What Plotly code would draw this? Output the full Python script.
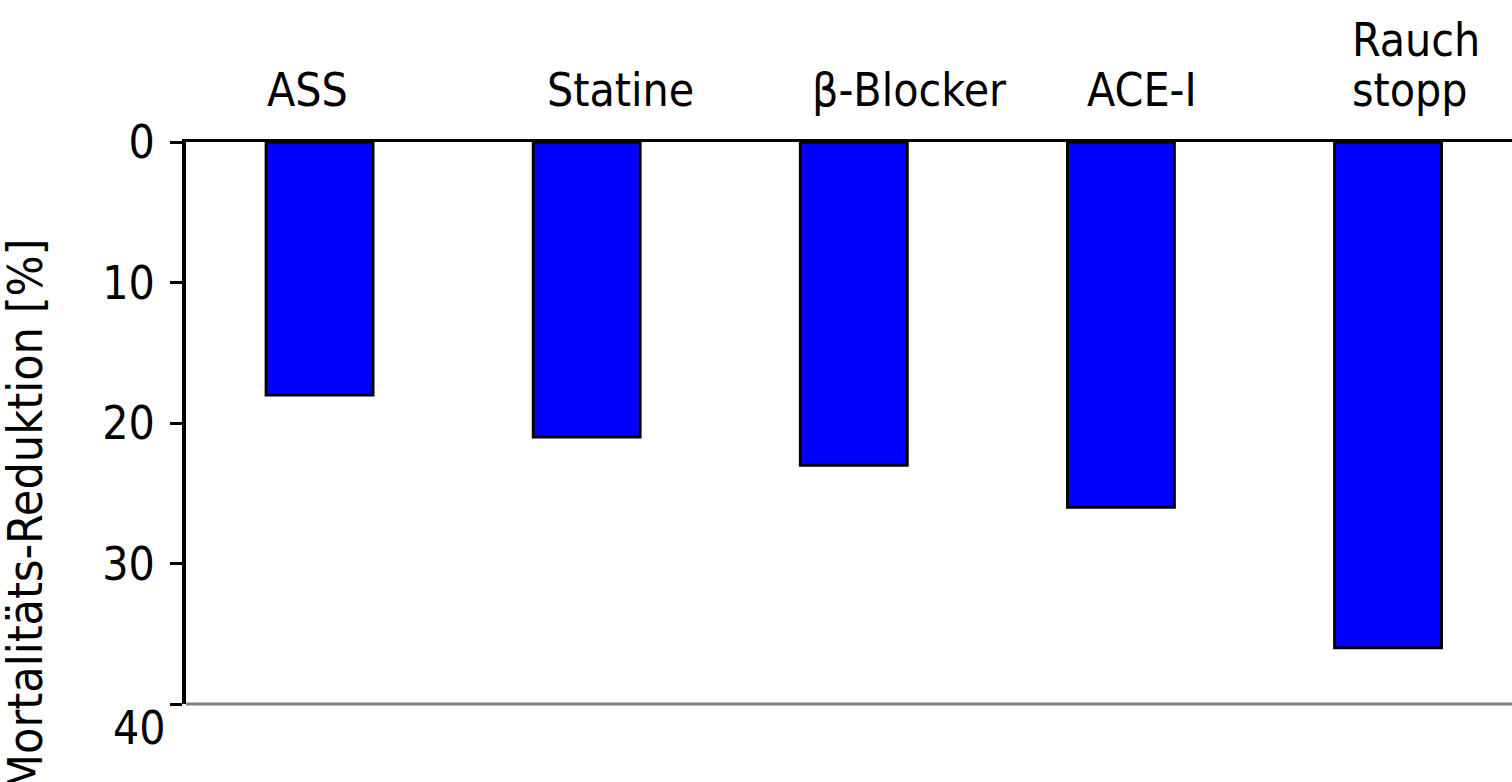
import plotly.graph_objects as go

# Mortality reduction per intervention (percent)
categories = ["ASS", "Statine", "β-Blocker", "ACE-I", "Rauch<br>stopp"]
reduction = [18, 21, 23, 26, 36]
y_ticks = [0, 10, 20, 30, 40]
y_tick_labels = ["0", "10", "20", "30", "40"]

FONT = "DejaVu Sans Condensed, Liberation Sans, sans-serif"
FONT_SIZE = 46

fig = go.Figure()
fig.add_trace(go.Bar(
    x=list(range(len(categories))),
    y=reduction,
    width=0.4,
    marker=dict(color="#0000FF", line=dict(color="#000000", width=3)),
    hoverinfo="skip",
))

# category labels above the top axis line (left edge offsets in px from bar center)
label_shift = [-55, -42, -44, -36, -38]
annotations = []
for i, (name, dx) in enumerate(zip(categories, label_shift)):
    lines = name.split("<br>")
    for j, line in enumerate(reversed(lines)):
        annotations.append(dict(
            x=i, xref="x", y=1, yref="paper",
            xanchor="left", yanchor="bottom",
            xshift=dx, yshift=23 + j * 50,
            text=line, showarrow=False,
            font=dict(family=FONT, size=FONT_SIZE, color="#000000"),
        ))

# the last tick label sits below the bottom frame line
annotations.append(dict(
    x=0, xref="paper", y=y_ticks[-1], yref="y",
    xanchor="right", yanchor="middle", xshift=-18, yshift=-24,
    text=y_tick_labels[-1], showarrow=False,
    font=dict(family=FONT, size=FONT_SIZE, color="#000000"),
))

# rotated y-axis title
annotations.append(dict(
    x=0, xref="paper", y=0.336, yref="paper",
    xanchor="center", yanchor="middle", xshift=-161,
    text="Mortalitäts-Reduktion [%]", textangle=-90, showarrow=False,
    font=dict(family=FONT, size=48, color="#000000"),
))

fig.update_layout(
    width=1512, height=782,
    margin=dict(l=186, r=0, t=142, b=78),
    paper_bgcolor="#FFFFFF", plot_bgcolor="#FFFFFF",
    showlegend=False,
    font=dict(family=FONT, size=FONT_SIZE, color="#000000"),
    annotations=annotations,
    xaxis=dict(
        range=[-0.5, 4.464], side="top",
        showline=True, linecolor="#000000", linewidth=3,
        showticklabels=False, ticks="", showgrid=False, zeroline=False,
    ),
    yaxis=dict(
        range=[40, 0], tickvals=y_ticks,
        ticktext=y_tick_labels[:-1] + [""],
        showline=True, linecolor="#000000", linewidth=4,
        ticks="outside", ticklen=12, tickwidth=3, tickcolor="#000000",
        ticklabelstandoff=6,
        showgrid=False, zeroline=False,
        tickfont=dict(family=FONT, size=FONT_SIZE, color="#000000"),
    ),
    # grey bottom frame line of the plot area
    shapes=[dict(
        type="line", xref="paper", yref="paper", x0=0, x1=1, y0=0, y1=0,
        line=dict(color="#808080", width=3), layer="above",
    )],
)

fig.write_html("out.html")
